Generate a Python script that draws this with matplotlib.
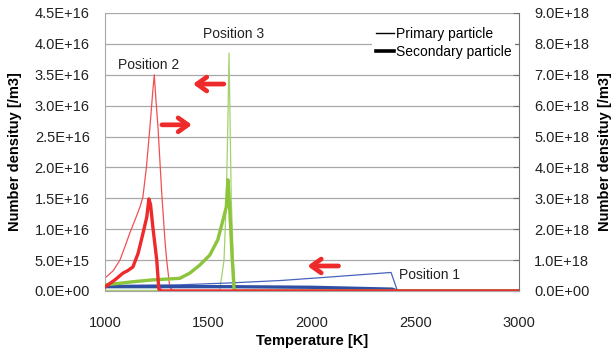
import matplotlib
matplotlib.use("Agg")
import matplotlib.pyplot as plt
from matplotlib.lines import Line2D
from matplotlib.ticker import FuncFormatter, MultipleLocator

plt.rcParams['font.family'] = ['Liberation Sans', 'DejaVu Sans']

# ---- data (left axis: primary particle, right axis: secondary particle) ----
t_p2_primary = [1000, 1040, 1072, 1100, 1120, 1145, 1169, 1183, 1200, 1217, 1230, 1238, 1246, 1256, 1274, 1290, 1298, 1313, 1330, 3000]
n_p2_primary = [2.1e15, 3.3e15, 5.0e15, 7.5e15, 9.4e15, 1.15e16, 1.36e16, 1.52e16, 2.0e16, 2.65e16, 3.2e16, 3.5e16, 3.1e16, 2.65e16, 1.59e16, 8e15, 5e15, 6e14, 0, 0]

t_p2_secondary = [1000, 1048, 1087, 1110, 1135, 1160, 1184, 1202, 1212, 1220, 1231, 1250, 1260, 1275, 3000]
n_p2_secondary = [1.3e17, 3.6e17, 5.8e17, 6.6e17, 7.8e17, 1.22e18, 1.88e18, 2.4e18, 2.98e18, 2.8e18, 2.08e18, 1.0e18, 6e16, 0, 0]

t_p3_primary = [1000, 1554, 1575, 1586, 1594, 1599, 1604, 1610, 1620, 1630, 3000]
n_p3_primary = [1e14, 1e14, 5e15, 1.47e16, 2.8e16, 3.85e16, 2.8e16, 1.47e16, 5e15, 0, 0]

t_p3_secondary = [1000, 1072, 1135, 1231, 1361, 1410, 1458, 1506, 1545, 1570, 1586, 1594, 1602, 1614, 1624, 3000]
n_p3_secondary = [2.0e17, 2.5e17, 3.0e17, 3.6e17, 4.1e17, 5.8e17, 8.4e17, 1.16e18, 1.66e18, 2.3e18, 2.72e18, 3.6e18, 2.72e18, 1.1e18, 0, 0]

t_p1_primary = [1000, 1360, 1600, 1850, 2100, 2382, 2413, 3000]
n_p1_primary = [0.9e15, 1.0e15, 1.3e15, 1.7e15, 2.3e15, 3.0e15, 0, 0]

t_p1_secondary = [1000, 1600, 2000, 2388, 2410, 3000]
n_p1_secondary = [1.4e17, 1.4e17, 1.2e17, 6e16, 0, 0]

legend_labels = ["Primary particle", "Secondary particle"]

RED = '#ee2a2a'
GREEN = '#8cc43c'
BLUE = '#2f4fa5'

fig = plt.figure(figsize=(6.12, 3.51), dpi=100)
ax = fig.add_axes([105/612, 1-291/351, 414/612, 278/351])
ax2 = ax.twinx()

ax.set_xlim(1000, 3000)
ax.set_ylim(0, 4.5e16)
ax2.set_ylim(0, 9.0e18)
ax.xaxis.set_major_locator(MultipleLocator(500))
ax.yaxis.set_major_locator(MultipleLocator(5e15))
ax2.yaxis.set_major_locator(MultipleLocator(1e18))
fmt = FuncFormatter(lambda v, p: f"{v:.1E}")
ax.yaxis.set_major_formatter(fmt)
ax2.yaxis.set_major_formatter(fmt)

ax.grid(axis='y', color='#a8a8a8', lw=0.9)
ax.set_axisbelow(True)

# primary (thin) on left axis
ax.plot(t_p3_primary, n_p3_primary, color='#a3d36a', lw=0.9)
ax.plot(t_p1_primary, n_p1_primary, color='#4763bd', lw=0.9)
ax.plot(t_p2_primary, n_p2_primary, color='#f25050', lw=0.9)
# secondary (thick) on right axis
ax2.plot(t_p1_secondary, n_p1_secondary, color=BLUE, lw=2.4)
ax2.plot(t_p3_secondary, n_p3_secondary, color=GREEN, lw=2.4)
ax2.plot(t_p2_secondary, n_p2_secondary, color=RED, lw=2.4)

# spines / ticks
for a in (ax, ax2):
    a.spines['top'].set_visible(False)
    a.spines['bottom'].set_color('#a8a8a8')
ax.spines['left'].set_color('#a8a8a8')
ax2.spines['left'].set_visible(False)
ax2.spines['right'].set_color('#707070')
ax.spines['right'].set_visible(False)
ax.tick_params(axis='y', length=0, pad=11, labelsize=10.5, colors='#222222')
ax.tick_params(axis='x', length=0, pad=18, labelsize=10.5, colors='#222222')
ax2.tick_params(axis='y', direction='in', length=4, pad=11, labelsize=10.5,
                color='#707070', labelcolor='#222222')

ax.set_xlabel("Temperature [K]", fontsize=10.5, fontweight='bold')
ax.set_ylabel("Number densituy [/m3]", fontsize=10.5, fontweight='bold')
ax2.set_ylabel("Number densituy [/m3]", fontsize=10.5, fontweight='bold')
ax.xaxis.set_label_coords(0.5, -0.155)
ax.yaxis.set_label_coords(-0.20, 0.5)
ax2.yaxis.set_label_coords(1.19, 0.5)

# annotations
ax.text(1212, 3.66e16, "Position 2", ha='center', va='center', fontsize=10, color='#222222')
ax.text(1623, 4.16e16, "Position 3", ha='center', va='center', fontsize=10, color='#222222')
ax.text(2418, 2.6e15, "Position 1", ha='left', va='center', fontsize=10, color='#222222')

arrow_kw = dict(arrowstyle='->,head_length=0.7,head_width=0.5', color=RED, lw=3.4,
                shrinkA=0, shrinkB=0)
ax.annotate('', xy=(1425, 3.35e16), xytext=(1574, 3.35e16), arrowprops=arrow_kw)
ax.annotate('', xy=(1420, 2.69e16), xytext=(1275, 2.69e16), arrowprops=arrow_kw)
ax.annotate('', xy=(1978, 4.05e15), xytext=(2128, 4.05e15), arrowprops=arrow_kw)

handles = [Line2D([], [], color='black', lw=1.0), Line2D([], [], color='black', lw=2.6)]
leg = ax2.legend(handles, legend_labels, loc='upper left', bbox_to_anchor=(0.645, 0.965),
                 frameon=True, fontsize=10, handlelength=1.3, handletextpad=0.1,
                 borderpad=0.3, labelspacing=0.3, borderaxespad=0)
leg.get_frame().set_facecolor('white')
leg.get_frame().set_edgecolor('none')
leg.get_frame().set_alpha(1)
leg.get_frame().set_boxstyle('square', pad=0)

fig.savefig("out.png", dpi=100)
